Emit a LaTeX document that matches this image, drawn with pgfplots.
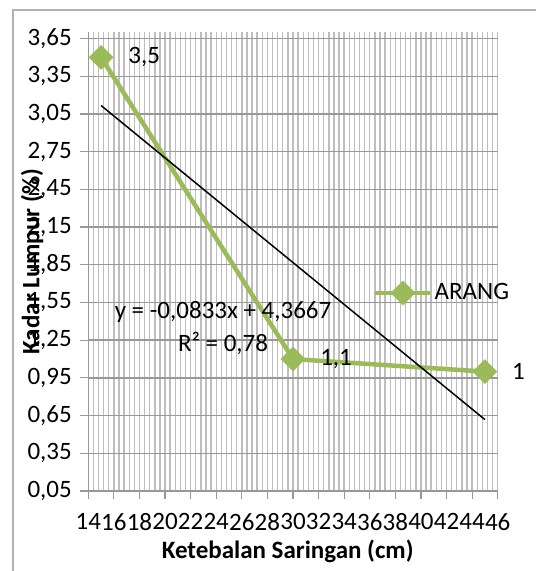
\documentclass[border=0pt]{standalone}
\usepackage{fontspec}
\setmainfont{Carlito}
\usepackage{pgfplots}
\pgfplotsset{compat=1.18}

\definecolor{arang}{HTML}{9BBB59}
\definecolor{gridmaj}{HTML}{989898}
\definecolor{gridmin}{HTML}{BEBEBE}

\begin{document}
\begin{tikzpicture}
\fontsize{25bp}{30bp}\selectfont
\useasboundingbox (-88.3bp,-80bp) rectangle (447.7bp,491bp);
\draw[gray!60, line width=1.2bp] (-75.3bp,-120bp) -- (-75.3bp,481bp) -- (500bp,481bp);
\begin{axis}[
    scale only axis,
    width=409.4bp, height=458.7bp,
    xmin=14, xmax=46,
    ymin=0.05, ymax=3.7,
    xtick={14,16,...,46},
    ytick={0.05,0.35,...,3.66},
    minor x tick num=4,
    axis x line*=bottom, axis y line*=left,
    axis line style={gridmaj, line width=1.2bp},
    tick align=outside,
    major tick length=8bp,
    minor tick length=0bp,
    tick style={gridmaj, line width=1.2bp},
    xmajorgrids, xminorgrids, ymajorgrids,
    y grid style={gridmaj, line width=1.4bp},
    x grid style={gridmin, line width=1.4bp},
    ticklabel style={font=\fontsize{25bp}{30bp}\selectfont},
    /pgf/number format/assume math mode=true,
    yticklabel style={/pgf/number format/.cd, use comma, fixed, fixed zerofill, precision=2},
    xticklabel style={yshift=-6bp, /pgf/number format/.cd, fixed, precision=0},
    xlabel={\textbf{Ketebalan Saringan (cm)}},
    ylabel={\textbf{Kadar Lumpur (\%)}},
    xlabel style={at={(axis description cs:0.487,-0.131)}, anchor=center, font=\fontsize{25bp}{30bp}\selectfont},
    ylabel style={at={(axis description cs:-0.1375,0.5)}, anchor=center, rotate=0, font=\fontsize{25bp}{30bp}\selectfont},
    legend style={at={(axis description cs:0.6954,0.4317)}, anchor=west, draw=none, fill=none, inner sep=0pt,
        font=\fontsize{25bp}{30bp}\selectfont},
    legend image code/.code={\draw[#1, mark repeat=2, mark phase=2] plot coordinates {(0bp,0bp) (27.5bp,0bp) (55bp,0bp)};},
    clip=false,
]
\addplot[color=arang, line width=4.5bp, mark=square*, mark size=6.5bp,
    mark options={rotate=45, solid},
    nodes near coords, point meta=explicit symbolic,
    nodes near coords style={anchor=west, inner sep=0pt, xshift=25bp, text=black,
        font=\fontsize{25bp}{30bp}\selectfont}]
    table[meta=lab] {
x  y   lab
15 3.5 {3,5}
30 1.1 {1,1}
45 1.0 {1}
};
\addlegendentry{ARANG}
\addplot[black, line width=1.5bp, forget plot] coordinates {(15,3.1172) (45,0.6182)};
\node[anchor=center, font=\fontsize{25bp}{30bp}\selectfont] at (axis cs:24.53,1.474) {y = -0,0833x + 4,3667};
\node[anchor=center, font=\fontsize{25bp}{30bp}\selectfont] at (axis cs:24.53,1.227) {R² = 0,78};
\end{axis}
\end{tikzpicture}
\end{document}
